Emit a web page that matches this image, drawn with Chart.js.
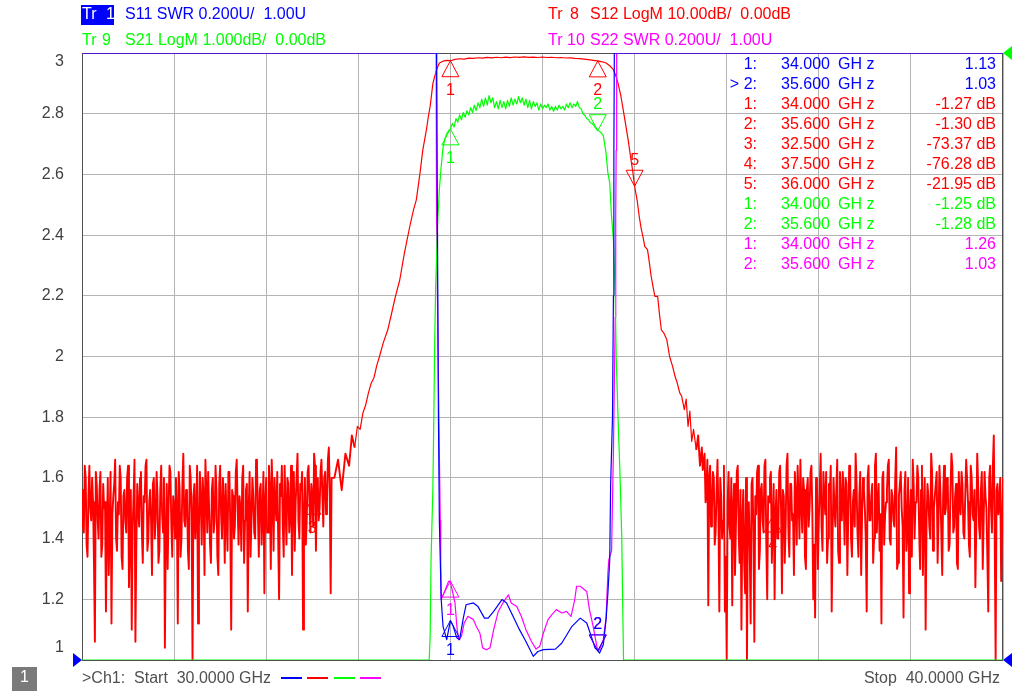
<!DOCTYPE html>
<html><head><meta charset="utf-8">
<script src="https://cdn.jsdelivr.net/npm/chart.js@4.4.1/dist/chart.umd.min.js"></script>
<style>html,body{margin:0;padding:0;background:#fff;overflow:hidden}canvas{display:block}</style>
</head><body>
<canvas id="c" width="1012" height="691" style="width:1012px;height:691px"></canvas>
<script>
// ---------- axis / sweep ----------
const freqStart = 30, freqStop = 40;
const xGridStep = 1;
const yTickValues = [3, 2.8, 2.6, 2.4, 2.2, 2, 1.8, 1.6, 1.4, 1.2, 1];
const yTickLabels = ['3', '2.8', '2.6', '2.4', '2.2', '2', '1.8', '1.6', '1.4', '1.2', '1'];

// ---------- S12 (dB) : noise floor below band, read on a 0.01 GHz sweep (even / odd points) ----------
const s12NoiseLowStart = 30.00;
const s12NoiseStep = 0.02;
const s12NoiseLow = [
 -72,-79,-70,-83,-68,-77,-74,-97,-71,-80,
 -69,-81,-75,-92,-70,-78,-94,-73,-67,-82,
 -76,-70,-85,-72,-79,-68,-80,-95,-73,-97,
 -71,-78,-69,-84,-74,-67,-80,-72,-86,-70,
 -77,-73,-82,-68,-79,-98,-71,-75,-69,-83,
 -74,-70,-94,-72,-80,-66,-78,-73,-85,-70,
 -100,-71,-76,-94,-69,-81,-73,-67,-79,-75,
 -84,-70,-77,-72,-86,-68,-80,-74,-71,-82,
 -69,-95,-73,-78,-67,-81,-75,-70,-84,-72,
 -92,-69,-77,-73,-80,-68,-83,-71,-76,-89,
 -70,-79,-72,-67,-82,-74,-69,-90,-73,-78,
 -68,-81,-71,-76,-86,-69,-74,-66,-80,-72,
 -95,-70,-77,-68,-79,-73,-66,-82,-70,-75,
 -67,-78,-69,-74,-65,-89
];
const s12NoiseLowOdd = [
 -78,-68,-81,-73,-75,-70,-84,-69,-77,-72,
 -83,-71,-74,-79,-86,-69,-76,-71,-80,-74,
 -68,-83,-73,-77,-70,-88,-72,-78,-67,-81,
 -75,-70,-79,-73,-68,-82,-74,-77,-71,-80,
 -69,-84,-72,-76,-70,-79,-85,-68,-78,-73,
 -80,-75,-69,-83,-71,-77,-72,-82,-68,-76,
 -73,-80,-68,-78,-74,-70,-86,-72,-69,-81,
 -72,-79,-68,-83,-71,-76,-70,-84,-77,-69,
 -78,-72,-80,-69,-75,-73,-82,-68,-77,-71,
 -75,-83,-70,-79,-67,-76,-72,-81,-69,-74,
 -79,-68,-85,-73,-70,-77,-80,-71,-68,-83,
 -75,-70,-79,-68,-73,-82,-70,-77,-71,-69,
 -76,-81,-69,-74,-71,-78,-68,-72,-77,-69,
 -73,-70,-76,-67,-72,-70
];
// S12 skirts and passband (GHz, dB)
const s12Band = [
 [32.74,-70],[32.78,-67],[32.82,-72],[32.86,-66],[32.90,-68],[32.93,-63],[32.96,-65],[32.99,-61.5],
 [33.02,-62],[33.05,-59.3],[33.08,-58],[33.11,-56],[33.14,-54.4],[33.17,-53.5],[33.20,-51.5],[33.23,-50],
 [33.27,-47.8],[33.32,-45.6],[33.36,-43],[33.40,-40.3],[33.45,-37.4],[33.50,-33],[33.56,-28.5],[33.60,-25.8],
 [33.63,-24.2],[33.67,-19.8],[33.70,-16],[33.72,-14.3],[33.74,-12.6],[33.76,-10.5],[33.78,-8.8],[33.81,-5],
 [33.83,-3.85],[33.85,-2.75],[33.88,-1.65],[33.92,-1.35],[33.96,-1.22],[34.00,-1.27],[34.05,-1.05],[34.10,-0.95],
 [34.15,-1.0],[34.20,-0.85],[34.25,-0.9],[34.30,-0.78],[34.35,-0.85],[34.40,-0.72],[34.45,-0.8],[34.50,-0.7],
 [34.55,-0.78],[34.60,-0.68],[34.65,-0.75],[34.70,-0.66],[34.75,-0.72],[34.80,-0.65],[34.85,-0.72],[34.90,-0.68],
 [34.95,-0.74],[35.00,-0.66],[35.05,-0.74],[35.10,-0.7],[35.15,-0.78],[35.20,-0.74],[35.25,-0.82],[35.30,-0.8],
 [35.35,-0.9],[35.40,-0.92],[35.45,-1.0],[35.50,-1.1],[35.55,-1.2],[35.60,-1.30],[35.65,-1.45],[35.69,-1.65],
 [35.73,-2.1],[35.77,-2.75],[35.80,-3.9],[35.82,-5],[35.85,-7],[35.87,-8.8],[35.90,-11.5],[35.93,-14.3],
 [35.96,-17.5],[35.98,-19.5],[36.00,-21.95],[36.03,-24.5],[36.05,-26.9],[36.07,-28.8],[36.09,-30.2],[36.11,-31.85],
 [36.14,-32.4],[36.16,-34.5],[36.18,-36.8],[36.20,-38.5],[36.22,-40.1],[36.25,-40.1],[36.27,-43],[36.29,-45.6],
 [36.32,-46.2],[36.35,-47.25],[36.38,-50],[36.41,-51.5],[36.44,-53.3],[36.46,-54.2],[36.49,-56],[36.51,-56.5],
 [36.54,-58.75],[36.56,-57],[36.58,-61.5],[36.60,-59],[36.62,-64],[36.64,-62],[36.67,-65.4],[36.69,-63],
 [36.71,-68],[36.73,-65],[36.74,-68.7]
];
// S12 noise floor above band
const s12NoiseHighStart = 36.76;
const s12NoiseHigh = [
 -66,-72,-91,-68,-75,-70,-79,-67,-92,-73,
 -77,-92,-100,-69,-80,-91,-71,-78,-68,-84,
 -95,-72,-89,-100,-74,-94,-70,-97,-76,-68,
 -82,-71,-79,-67,-90,-74,-69,-77,-90,-72,
 -80,-68,-89,-73,-78,-66,-83,-71,-76,-69,
 -81,-73,-67,-79,-72,-85,-70,-75,-68,-90,
 -93,-71,-77,-66,-82,-73,-69,-80,-72,-92,
 -70,-78,-67,-84,-74,-69,-81,-71,-76,-68,
 -83,-72,-66,-79,-73,-86,-70,-75,-92,-68,
 -77,-71,-80,-66,-74,-82,-94,-69,-76,-72,
 -67,-81,-73,-78,-65,-84,-71,-75,-93,-69,
 -79,-89,-72,-67,-80,-74,-70,-85,-68,-76,
 -95,-71,-78,-66,-82,-73,-69,-77,-72,-86,
 -68,-75,-70,-81,-66,-79,-73,-84,-69,-76,
 -71,-80,-67,-74,-83,-70,-77,-88,-66,-78,
 -72,-85,-69,-75,-92,-68,-79,-63,-100,-71,
 -74,-87,-70
];
const s12NoiseHighOdd = [
 -74,-67,-70,-78,-69,-81,-72,-76,-70,-80,
 -68,-83,-74,-78,-70,-75,-86,-69,-79,-72,
 -77,-84,-70,-76,-82,-71,-79,-73,-69,-85,
 -72,-77,-68,-81,-73,-70,-84,-71,-76,-80,
 -69,-75,-72,-84,-68,-79,-71,-77,-86,-73,
 -68,-80,-74,-70,-83,-72,-78,-69,-76,-81,
 -70,-85,-72,-78,-69,-76,-84,-71,-68,-79,
 -75,-72,-82,-69,-77,-73,-70,-86,-68,-80,
 -74,-78,-71,-83,-69,-76,-72,-80,-70,-77,
 -73,-84,-68,-79,-71,-76,-70,-81,-74,-68,
 -80,-72,-77,-70,-85,-73,-69,-78,-72,-82,
 -70,-76,-83,-71,-74,-68,-79,-72,-86,-70,
 -77,-73,-80,-69,-75,-71,-84,-68,-79,-73,
 -76,-70,-82,-72,-68,-78,-71,-85,-74,-69,
 -79,-73,-70,-81,-68,-76,-72,-78,-71,-80,
 -69,-77,-73,-83,-70,-75,-68,-80,-72,-76,
 -70,-78
];

// ---------- S21 (GHz, dB) ; below -10 dB it sits on the bottom edge ----------
const s21 = [
 [30.00,-10],[33.77,-10],[33.78,-9.6],[33.79,-8.35],[33.81,-7.15],[33.82,-6.0],[33.83,-4.72],[33.84,-3.85],
 [33.85,-3.38],[33.86,-2.85],[33.88,-2.25],[33.90,-1.87],[33.92,-1.55],[33.94,-1.42],
 [33.96,-1.33],[33.98,-1.28],[34.00,-1.25],[34.02,-1.16],[34.04,-1.22],[34.06,-1.08],[34.08,-1.14],[34.10,-1.02],
 [34.12,-1.10],[34.14,-0.98],[34.16,-1.06],[34.18,-0.95],[34.20,-1.02],[34.22,-0.90],[34.24,-0.98],[34.26,-0.86],
 [34.28,-0.95],[34.30,-0.82],[34.32,-0.90],[34.34,-0.76],[34.36,-0.88],[34.38,-0.74],[34.40,-0.86],[34.42,-0.70],
 [34.44,-0.82],[34.46,-0.74],[34.48,-0.90],[34.50,-0.80],[34.52,-0.92],[34.54,-0.78],[34.56,-0.90],[34.58,-0.80],
 [34.60,-0.92],[34.62,-0.78],[34.64,-0.88],[34.66,-0.74],[34.68,-0.86],[34.70,-0.76],[34.72,-0.84],[34.74,-0.72],
 [34.76,-0.82],[34.78,-0.74],[34.80,-0.86],[34.82,-0.76],[34.84,-0.90],[34.86,-0.78],[34.88,-0.92],[34.90,-0.80],
 [34.92,-0.88],[34.94,-0.82],[34.96,-0.94],[34.98,-0.84],[35.00,-0.92],[35.02,-0.86],[35.04,-0.90],[35.06,-0.84],
 [35.08,-0.94],[35.10,-0.88],[35.12,-0.96],[35.14,-0.88],[35.16,-0.94],[35.18,-0.86],[35.20,-0.92],[35.22,-0.88],
 [35.24,-0.94],[35.26,-0.84],[35.28,-0.90],[35.30,-0.82],[35.32,-0.90],[35.34,-0.84],[35.36,-0.88],[35.38,-0.80],
 [35.40,-0.90],[35.42,-0.92],[35.44,-1.00],[35.46,-1.03],[35.48,-1.08],[35.50,-1.10],[35.52,-1.15],[35.54,-1.16],
 [35.56,-1.20],[35.58,-1.24],[35.60,-1.28],[35.62,-1.29],[35.64,-1.32],[35.66,-1.36],[35.68,-1.55],[35.69,-1.65],
 [35.71,-1.98],[35.73,-2.14],[35.75,-2.7],[35.77,-3.08],[35.79,-4.01],[35.80,-5],[35.82,-6],[35.84,-6.87],
 [35.86,-7.95],[35.87,-9],[35.88,-10],[40.00,-10]
];

// ---------- S11 SWR (GHz, U) ; above 3 it sits on the top edge ----------
const s11 = [
 [30.00,3],[33.85,3],[33.86,2.4],[33.87,1.8],[33.88,1.46],[33.89,1.33],[33.90,1.2],[33.92,1.111],[33.96,1.067],
 [34.00,1.13],[34.03,1.111],[34.07,1.073],[34.10,1.067],[34.14,1.138],[34.17,1.182],[34.25,1.188],[34.30,1.176],
 [34.37,1.138],[34.41,1.138],[34.47,1.16],[34.56,1.199],[34.61,1.188],[34.68,1.144],[34.75,1.10],[34.82,1.061],
 [34.90,1.012],[34.95,1.028],[35.01,1.034],[35.14,1.036],[35.21,1.056],[35.32,1.111],[35.41,1.138],[35.48,1.122],
 [35.53,1.078],[35.57,1.04],[35.60,1.03],[35.62,1.023],[35.66,1.05],[35.69,1.133],[35.71,1.22],[35.73,1.33],
 [35.74,1.58],[35.76,1.80],[35.77,2.2],[35.775,2.68],[35.78,3],[40.00,3]
];

// ---------- S22 SWR (GHz, U) ----------
const s22 = [
 [30.00,3],[33.845,3],[33.85,2.44],[33.87,1.92],[33.88,1.68],[33.89,1.46],[33.895,1.33],[33.90,1.2],[33.93,1.22],
 [33.98,1.259],[34.00,1.26],[34.01,1.243],[34.05,1.188],[34.07,1.111],[34.09,1.067],[34.12,1.078],[34.15,1.122],
 [34.19,1.144],[34.25,1.133],[34.28,1.111],[34.32,1.089],[34.35,1.04],[34.39,1.034],[34.43,1.04],[34.47,1.10],
 [34.52,1.16],[34.57,1.188],[34.63,1.215],[34.66,1.188],[34.72,1.176],[34.77,1.144],[34.82,1.10],[34.88,1.061],
 [34.93,1.036],[34.97,1.045],[35.01,1.089],[35.06,1.133],[35.10,1.149],[35.15,1.166],[35.21,1.155],[35.26,1.16],
 [35.31,1.144],[35.35,1.199],[35.37,1.243],[35.41,1.243],[35.48,1.226],[35.51,1.166],[35.55,1.111],[35.59,1.045],
 [35.60,1.03],[35.62,1.034],[35.66,1.067],[35.69,1.138],[35.71,1.287],[35.72,1.33],[35.75,1.36],[35.77,1.69],
 [35.79,2.13],[35.795,2.46],[35.80,2.68],[35.805,3],[40.00,3]
];

// ---------- markers (number, GHz, value) ----------
const s11Markers = [[1,34.0,1.13],[2,35.6,1.03]];
const s12Markers = [[1,34.0,-1.27],[2,35.6,-1.30],[3,32.5,-73.37],[4,37.5,-76.28],[5,36.0,-21.95]];
const s21Markers = [[1,34.0,-1.25],[2,35.6,-1.28]];
const s22Markers = [[1,34.0,1.26],[2,35.6,1.03]];

// ---------- header text ----------
const traceTitles = ['Tr', 'Tr', 'Tr', 'Tr'];
const traceNumbers = ['1', '9', '8', '10'];
const traceDescs = ['S11 SWR 0.200U/  1.00U', 'S21 LogM 1.000dB/  0.00dB', 'S12 LogM 10.00dB/  0.00dB', 'S22 SWR 0.200U/  1.00U'];
const footerLeft = '>Ch1:  Start  30.0000 GHz';
const footerRight = 'Stop  40.0000 GHz';
const channelLabel = '1';

// ---------- build ----------
const BLUE = '#0000ff', RED = '#ff0000', GREEN = '#00ff00', MAG = '#ff00ff';
const FONT = "'Liberation Sans', Arial, sans-serif";

function clampPts(arr, lo, hi) {
  return arr.map(p => ({x: p[0], y: Math.max(lo, Math.min(hi, p[1]))}));
}
function pushSweep(out, start, step, evens, odds) {
  evens.forEach((v, i) => {
    out.push([+(start + i * step).toFixed(3), v]);
    if (i < odds.length) out.push([+(start + i * step + step / 2).toFixed(3), odds[i]]);
  });
}
const s12Pts = [];
pushSweep(s12Pts, s12NoiseLowStart, s12NoiseStep, s12NoiseLow, s12NoiseLowOdd);
s12Band.forEach(p => s12Pts.push(p));
pushSweep(s12Pts, s12NoiseHighStart, s12NoiseStep, s12NoiseHigh, s12NoiseHighOdd);

const common = {showLine: true, pointRadius: 0, pointHoverRadius: 0, borderJoinStyle: 'round', tension: 0, fill: false};

function tri(ctx, x, y, dir, color, label) {
  const h = 16, w = 8.5;
  ctx.save();
  ctx.strokeStyle = color; ctx.lineWidth = 1;
  ctx.beginPath();
  if (dir === 'up') { ctx.moveTo(x, y); ctx.lineTo(x - w, y + h); ctx.lineTo(x + w, y + h); }
  else { ctx.moveTo(x, y); ctx.lineTo(x - w, y - h); ctx.lineTo(x + w, y - h); }
  ctx.closePath(); ctx.stroke();
  ctx.fillStyle = color; ctx.font = '16px ' + FONT; ctx.textAlign = 'center'; ctx.textBaseline = 'middle';
  ctx.fillText(label, x, dir === 'up' ? y + h + 14 : y - h - 10);
  ctx.restore();
}
function filledTri(ctx, pts, color) {
  ctx.save(); ctx.fillStyle = color; ctx.beginPath();
  ctx.moveTo(pts[0][0], pts[0][1]); ctx.lineTo(pts[1][0], pts[1][1]); ctx.lineTo(pts[2][0], pts[2][1]);
  ctx.closePath(); ctx.fill(); ctx.restore();
}

const vnaPlugin = {
  id: 'vna',
  beforeDraw(chart) {
    const ctx = chart.ctx; ctx.save(); ctx.fillStyle = '#fff'; ctx.fillRect(0, 0, chart.width, chart.height); ctx.restore();
  },
  beforeDatasetsDraw(chart) {
    const ctx = chart.ctx, a = chart.chartArea;
    ctx.save(); ctx.strokeStyle = '#505050'; ctx.lineWidth = 1;
    ctx.strokeRect(Math.round(a.left) + 0.5, Math.round(a.top) + 0.5, Math.round(a.right - a.left) - 1, Math.round(a.bottom - a.top));
    ctx.restore();
  },
  afterDatasetsDraw(chart) {
    const ctx = chart.ctx, a = chart.chartArea, sx = chart.scales.x;
    const sy = chart.scales.y, sy2 = chart.scales.y2, sy3 = chart.scales.y3;
    const dir = n => (n === 2 || n === 5) ? 'down' : 'up';
    s22Markers.forEach(m => tri(ctx, sx.getPixelForValue(m[1]), sy.getPixelForValue(m[2]), dir(m[0]), MAG, String(m[0])));
    s12Markers.forEach(m => tri(ctx, sx.getPixelForValue(m[1]), sy3.getPixelForValue(m[2]), (m[0] === 5) ? 'down' : 'up', RED, String(m[0])));
    s21Markers.forEach(m => tri(ctx, sx.getPixelForValue(m[1]), sy2.getPixelForValue(m[2]), dir(m[0]), GREEN, String(m[0])));
    s11Markers.forEach(m => tri(ctx, sx.getPixelForValue(m[1]), sy.getPixelForValue(m[2]), dir(m[0]), BLUE, String(m[0])));
    filledTri(ctx, [[a.left, a.bottom], [a.left - 9, a.bottom - 7], [a.left - 9, a.bottom + 7]], BLUE);
    filledTri(ctx, [[a.right, a.bottom], [a.right + 9, a.bottom - 7], [a.right + 9, a.bottom + 7]], BLUE);
    filledTri(ctx, [[a.right, a.top], [a.right + 9, a.top - 7], [a.right + 9, a.top + 7]], GREEN);
    const rows = [];
    s11Markers.forEach(m => rows.push([BLUE, m[0], m[1], m[2].toFixed(2)]));
    s12Markers.forEach(m => rows.push([RED, m[0], m[1], m[2].toFixed(2) + ' dB']));
    s21Markers.forEach(m => rows.push([GREEN, m[0], m[1], m[2].toFixed(2) + ' dB']));
    s22Markers.forEach(m => rows.push([MAG, m[0], m[1], m[2].toFixed(2)]));
    ctx.save(); ctx.font = '16px ' + FONT; ctx.textBaseline = 'middle';
    rows.forEach((r, i) => {
      const y = 65 + 20 * i;
      ctx.fillStyle = r[0];
      ctx.textAlign = 'right';
      ctx.fillText((i === 1 ? '> ' : '') + r[1] + ':', 757, y);
      ctx.textAlign = 'left';
      ctx.fillText(r[2].toFixed(3), 781, y);
      ctx.fillText('GH z', 838, y);
      ctx.textAlign = 'right';
      ctx.fillText(r[3], 996, y);
    });
    ctx.restore();
  },
  afterDraw(chart) {
    const ctx = chart.ctx, a = chart.chartArea, sy = chart.scales.y;
    ctx.save();
    ctx.font = '16px ' + FONT; ctx.textBaseline = 'middle';
    ctx.fillStyle = '#404040'; ctx.textAlign = 'right';
    yTickValues.forEach((v, i) => {
      let y = sy.getPixelForValue(v);
      y = Math.max(a.top + 9, Math.min(a.bottom - 12, y));
      ctx.fillText(yTickLabels[i], 64, y);
    });
    ctx.textAlign = 'left';
    ctx.fillStyle = BLUE; ctx.fillRect(81, 5, 33, 20);
    const hdr = [[82, 15, 24, '#ffffff', BLUE], [82, 41, 20, GREEN, GREEN], [548, 15, 22, RED, RED], [548, 41, 19, MAG, MAG]];
    hdr.forEach((h, i) => {
      ctx.fillStyle = h[3];
      ctx.fillText(traceTitles[i], h[0], h[1]);
      ctx.fillText(traceNumbers[i], h[0] + h[2], h[1]);
      ctx.fillStyle = h[4];
      ctx.fillText(traceDescs[i], h[0] + (i < 2 ? 43 : 42), h[1]);
    });
    ctx.fillStyle = '#7a7a7a'; ctx.fillRect(12, 667, 25, 24);
    ctx.fillStyle = '#ffffff'; ctx.textAlign = 'center'; ctx.fillText(channelLabel, 24.5, 678);
    ctx.fillStyle = '#505050'; ctx.textAlign = 'left'; ctx.fillText(footerLeft, 82, 679);
    ctx.textAlign = 'right'; ctx.fillText(footerRight, 1000, 679);
    [[281, BLUE], [307, RED], [334, GREEN], [360, MAG]].forEach(d => {
      ctx.fillStyle = d[1]; ctx.fillRect(d[0], 677, 21, 2);
    });
    ctx.restore();
  }
};

// noise-floor segments are drawn a little heavier so the dense sweep reads as a solid band
const noiseWidth = c => (c.p0.parsed.y < -62 && c.p1.parsed.y < -62) ? 1.9 : 1.2;

new Chart(document.getElementById('c'), {
  type: 'scatter',
  data: {
    datasets: [
      Object.assign({label: 'S11', data: clampPts(s11, 1, 3), borderColor: BLUE, borderWidth: 1.2, yAxisID: 'y'}, common),
      Object.assign({label: 'S21', data: clampPts(s21, -10, 0), borderColor: GREEN, borderWidth: 1.2, yAxisID: 'y2'}, common),
      Object.assign({label: 'S22', data: clampPts(s22, 1, 3), borderColor: MAG, borderWidth: 1.2, yAxisID: 'y'}, common),
      Object.assign({label: 'S12', data: clampPts(s12Pts, -100, 0), borderColor: RED, borderWidth: 1.2, yAxisID: 'y3',
                     segment: {borderWidth: noiseWidth}}, common)
    ]
  },
  options: {
    responsive: false, animation: false, devicePixelRatio: 1,
    layout: {padding: {left: 82, top: 53, right: 9, bottom: 31}},
    plugins: {legend: {display: false}, tooltip: {enabled: false}},
    events: [],
    scales: {
      x: {type: 'linear', min: freqStart, max: freqStop,
          ticks: {display: false, stepSize: xGridStep},
          grid: {color: '#b4b4b4', lineWidth: 1, drawTicks: false}, border: {display: false}},
      y: {type: 'linear', min: 1, max: 3,
          ticks: {display: false, stepSize: 0.2},
          grid: {color: '#b4b4b4', lineWidth: 1, drawTicks: false}, border: {display: false}},
      y2: {type: 'linear', min: -10, max: 0, display: false},
      y3: {type: 'linear', min: -100, max: 0, display: false}
    }
  },
  plugins: [vnaPlugin]
});
</script>
</body></html>
